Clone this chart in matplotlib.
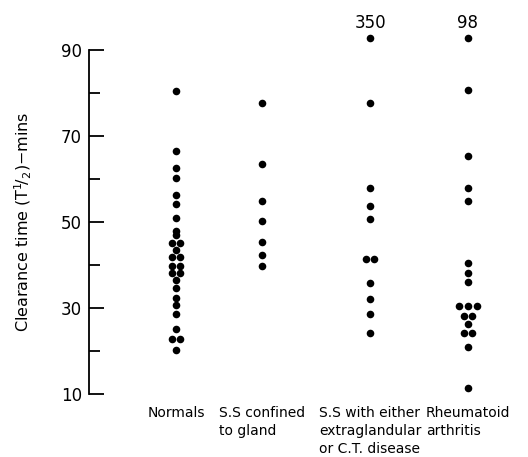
import matplotlib
matplotlib.use("Agg")
import matplotlib.pyplot as plt
from matplotlib.ticker import FixedLocator, NullFormatter
from collections import Counter

plt.rcParams["mathtext.default"] = "regular"

# ---------------- data ----------------
categories = ["Normals",
              "S.S confined\nto gland",
              "S.S with either\nextraglandular\nor C.T. disease",
              "Rheumatoid\narthritis"]
normals = [80.5, 66.4, 62.5, 60.3, 56.3, 54.2, 50.9, 48.0, 47.0, 45.0, 45.0,
           43.6, 41.8, 41.8, 39.8, 39.8, 38.1, 38.1, 36.5, 34.6, 32.4, 30.7,
           28.6, 25.0, 22.7, 22.7, 20.2]
ss_gland = [77.6, 63.5, 54.8, 50.3, 45.3, 42.3, 39.8]
ss_extra = [350, 77.7, 58.0, 53.8, 50.7, 41.4, 41.4, 35.7, 32.1, 28.6, 24.1]
rheumatoid = [98, 80.7, 65.4, 57.8, 54.9, 40.4, 38.2, 36.1, 30.5, 30.5, 30.5,
              28.1, 28.1, 26.3, 24.1, 24.1, 21.0, 11.5]
series = [normals, ss_gland, ss_extra, rheumatoid]

major_ticks = [10, 30, 50, 70, 90]
major_labels = ["10", "30", "50", "70", "90"]
minor_ticks = [20, 40, 60, 80]

# ---------------- layout ----------------
positions = [1.0, 2.0, 3.256, 4.395]
y_min, y_max = 10, 90
offscale_y = 92.8          # where values above the scale are drawn
spread = 0.1               # horizontal spacing for tied values

fig = plt.figure(figsize=(5.28, 4.57), dpi=100)
ax = fig.add_axes([0.1686, 0.1379, 0.8314, 0.7527])

for pos, vals in zip(positions, series):
    counts = Counter(vals)
    xs, ys = [], []
    for v, n in counts.items():
        shown = v if v <= y_max else offscale_y
        for i in range(n):
            xs.append(pos + (i - (n - 1) / 2) * spread)
            ys.append(shown)
        if v > y_max:
            ax.annotate(str(v), (pos, shown), xytext=(0, 4),
                        textcoords="offset points", ha="center", va="bottom",
                        fontsize=12, annotation_clip=False)
    ax.scatter(xs, ys, s=30, color="black", linewidths=0, clip_on=False,
               zorder=3)

ax.set_xlim(-0.012, 5.093)
ax.set_ylim(y_min, y_max)

for side in ("top", "right", "bottom"):
    ax.spines[side].set_visible(False)
ax.spines["left"].set_linewidth(1.3)

ax.yaxis.set_major_locator(FixedLocator(major_ticks))
ax.set_yticklabels(major_labels)
ax.yaxis.set_minor_locator(FixedLocator(minor_ticks))
ax.yaxis.set_minor_formatter(NullFormatter())
ax.tick_params(axis="y", which="major", direction="in", length=11,
               width=1.3, labelsize=12, pad=5)
ax.tick_params(axis="y", which="minor", direction="in", length=8, width=1.3)

ax.set_xticks(positions)
ax.set_xticklabels(categories, fontsize=10, linespacing=1.35,
                   multialignment="left", va="top")
ax.tick_params(axis="x", length=0, pad=9)

ax.set_ylabel("Clearance time (T$^{1}\\!/_{2}$)$-$mins", fontsize=11.5)
ax.yaxis.set_label_coords(-0.125, 0.5)

fig.savefig("out.png", dpi=100, facecolor="white")
